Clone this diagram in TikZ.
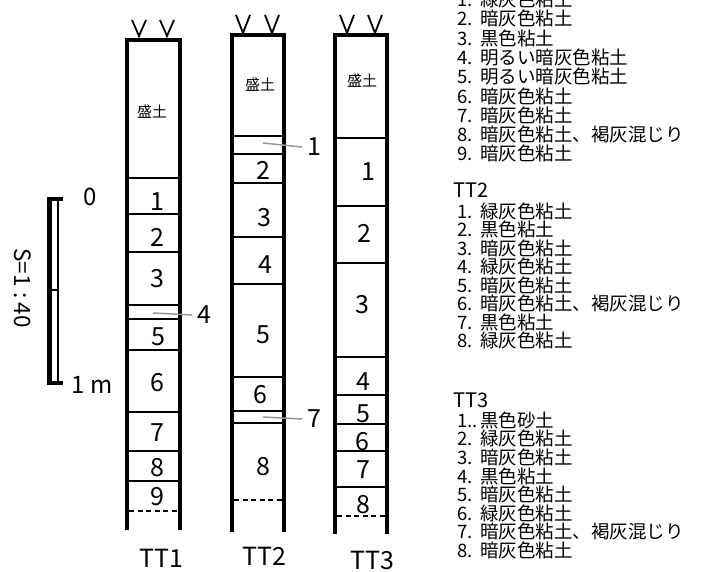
\documentclass[tikz,border=0pt]{standalone}
\usepackage{fontspec}
\setmainfont{Noto Sans CJK JP}
\usepackage{tikz}
\usepackage{color}
\definecolor{leadgray}{RGB}{150, 150, 150}
\definecolor{wallblack}{RGB}{0, 0, 0}
\newcommand{\soilitem}[2]{\makebox[25pt][l]{\hspace{2pt}#1}#2}

\begin{document}
\begin{tikzpicture}[x=1pt, y=-1pt,
    wall/.style={wallblack, line width=4.5pt, line join=miter},
    bnd/.style={line width=2pt},
    cutline/.style={line width=2pt, dash pattern=on 5pt off 3.5pt},
    vmark/.style={line width=1.8pt},
    lbl/.style={font=\fontsize{25}{25}\selectfont, inner sep=0pt},
    fillname/.style={font=\fontsize{15}{15}\selectfont, inner sep=0pt},
    side/.style={font=\fontsize{25}{25}\selectfont, inner xsep=5pt, inner ysep=0pt},
    lead/.style={leadgray, line width=1.5pt},
    leg/.style={font=\fontsize{18.5}{18.5}\selectfont, anchor=west, inner sep=0pt},
    leghead/.style={font=\fontsize{20}{20}\selectfont, anchor=west, inner sep=0pt}]
      \useasboundingbox (0,0) rectangle (701,572);
      \clip (0,0) rectangle (701,572);
      % scale bar
      \draw[line width=4.5pt] (49.5,199) -- (49.5,383);
      \draw[line width=1.2pt] (58,199) -- (58,383);
      \draw[line width=3.5pt] (47.3,199) -- (63,199);
      \draw[line width=3.5pt] (47.3,383) -- (63,383);
      \draw[line width=1.2pt] (49.5,290) -- (58,290);
      \node[font=\fontsize{24}{24}\selectfont, inner sep=0pt] (top0) at (90,197) {0};
      \node[font=\fontsize{24}{24}\selectfont, inner sep=0pt] (bot1m) at (92,385) {1 m};
      \node[font=\fontsize{22.5}{22.5}\selectfont, inner sep=0pt, rotate=-90] (scl) at (23,288) {S=1\hspace{6pt}:\hspace{4pt}40};
      % TT1
      \draw[vmark] (132,20) -- (139,36) -- (146,20) (160,20) -- (167,36) -- (174,20);
      \draw[bnd] (127,178) -- (180,178) (127,214) -- (180,214) (127,252) -- (180,252)
        (127,305) -- (180,305) (127,319) -- (180,319) (127,350) -- (180,350)
        (127,412) -- (180,412) (127,451) -- (180,451) (127,481) -- (180,481);
      \draw[cutline] (129,511) -- (178,511);
      \draw[wall] (127,530) -- (127,40) -- (180,40) -- (180,530);
      \node[fillname] (tt1f) at (152,112) {盛土};
      \node[lbl] (tt1n1) at (157,202) {1};
      \node[lbl] (tt1n2) at (157,237) {2};
      \node[lbl] (tt1n3) at (157,279) {3};
      \node[lbl] (tt1n5) at (158,337) {5};
      \node[lbl] (tt1n6) at (157,383) {6};
      \node[lbl] (tt1n7) at (157,433) {7};
      \node[lbl] (tt1n8) at (157,468) {8};
      \node[lbl] (tt1n9) at (157,497) {9};
      \coordinate (tt1in4) at (153,313);
      \node[side, anchor=west] (tt1n4) at (192,315) {4};
      \draw[lead] (tt1in4) -- (tt1n4.west);
      \node[font=\fontsize{25}{25}\selectfont, inner sep=0pt] (tt1name) at (161,558) {TT1};
      % TT2
      \draw[vmark] (236,15) -- (243,33) -- (250,15) (265,15) -- (272,33) -- (279,15);
      \draw[bnd] (232,136) -- (284,136) (232,154) -- (284,154) (232,183) -- (284,183)
        (232,237) -- (284,237) (232,284) -- (284,284) (232,377) -- (284,377)
        (232,411) -- (284,411) (232,423) -- (284,423);
      \draw[cutline] (234,500) -- (282,500);
      \draw[wall] (232,532) -- (232,35) -- (284,35) -- (284,532);
      \node[fillname] (tt2f) at (260,85) {盛土};
      \node[lbl] (tt2n2) at (263,170) {2};
      \node[lbl] (tt2n3) at (264,218) {3};
      \node[lbl] (tt2n4) at (265,265) {4};
      \node[lbl] (tt2n5) at (263,335) {5};
      \node[lbl] (tt2n6) at (260,395) {6};
      \node[lbl] (tt2n8) at (263,467) {8};
      \coordinate (tt2in1) at (263,143);
      \node[side, anchor=west] (tt2n1) at (302,147) {1};
      \draw[lead] (tt2in1) -- (tt2n1.west);
      \coordinate (tt2in7) at (263,417);
      \node[side, anchor=west] (tt2n7) at (302,419) {7};
      \draw[lead] (tt2in7) -- (tt2n7.west);
      \node[font=\fontsize{25}{25}\selectfont, inner sep=0pt] (tt2name) at (264,556) {TT2};
      % TT3
      \draw[vmark] (340,15) -- (347,33) -- (354,15) (368,15) -- (375,33) -- (382,15);
      \draw[bnd] (335,138) -- (387,138) (335,206) -- (387,206) (335,263) -- (387,263)
        (335,357) -- (387,357) (335,395) -- (387,395) (335,424) -- (387,424)
        (335,451) -- (387,451) (335,487) -- (387,487);
      \draw[cutline] (337,516) -- (385,516);
      \draw[wall] (335,534) -- (335,35) -- (387,35) -- (387,534);
      \node[fillname] (tt3f) at (362,81) {盛土};
      \node[lbl] (tt3n1) at (368,172) {1};
      \node[lbl] (tt3n2) at (364,233) {2};
      \node[lbl] (tt3n3) at (362,305) {3};
      \node[lbl] (tt3n4) at (363,382) {4};
      \node[lbl] (tt3n5) at (363,414) {5};
      \node[lbl] (tt3n6) at (362,442) {6};
      \node[lbl] (tt3n7) at (363,470) {7};
      \node[lbl] (tt3n8) at (363,505) {8};
      \node[font=\fontsize{25}{25}\selectfont, inner sep=0pt] (tt3name) at (372,560) {TT3};
      % legend TT1
      \node[leg] (l1a) at (455,-1) {\soilitem{1.}{緑灰色粘土}};
      \node[leg] (l1b) at (455,18.5) {\soilitem{2.}{暗灰色粘土}};
      \node[leg] (l1c) at (455,38) {\soilitem{3.}{黒色粘土}};
      \node[leg] (l1d) at (455,57.5) {\soilitem{4.}{明るい暗灰色粘土}};
      \node[leg] (l1e) at (455,77) {\soilitem{5.}{明るい暗灰色粘土}};
      \node[leg] (l1f) at (455,96) {\soilitem{6.}{暗灰色粘土}};
      \node[leg] (l1g) at (455,115) {\soilitem{7.}{暗灰色粘土}};
      \node[leg] (l1h) at (455,134) {\soilitem{8.}{暗灰色粘土、褐灰混じり}};
      \node[leg] (l1i) at (455,153) {\soilitem{9.}{暗灰色粘土}};
      % legend TT2
      \node[leghead] (h2) at (453,190) {TT2};
      \node[leg] (l2a) at (455,211) {\soilitem{1.}{緑灰色粘土}};
      \node[leg] (l2b) at (455,229.5) {\soilitem{2.}{黒色粘土}};
      \node[leg] (l2c) at (455,248) {\soilitem{3.}{暗灰色粘土}};
      \node[leg] (l2d) at (455,266.5) {\soilitem{4.}{緑灰色粘土}};
      \node[leg] (l2e) at (455,285) {\soilitem{5.}{暗灰色粘土}};
      \node[leg] (l2f) at (455,303.5) {\soilitem{6.}{暗灰色粘土、褐灰混じり}};
      \node[leg] (l2g) at (455,322) {\soilitem{7.}{黒色粘土}};
      \node[leg] (l2h) at (455,340.5) {\soilitem{8.}{緑灰色粘土}};
      % legend TT3
      \node[leghead] (h3) at (453,400) {TT3};
      \node[leg] (l3a) at (455,420) {\soilitem{1..}{黒色砂土}};
      \node[leg] (l3b) at (455,438.5) {\soilitem{2.}{緑灰色粘土}};
      \node[leg] (l3c) at (455,457) {\soilitem{3.}{暗灰色粘土}};
      \node[leg] (l3d) at (455,476) {\soilitem{4.}{黒色粘土}};
      \node[leg] (l3e) at (455,494.5) {\soilitem{5.}{暗灰色粘土}};
      \node[leg] (l3f) at (455,513) {\soilitem{6.}{緑灰色粘土}};
      \node[leg] (l3g) at (455,531.5) {\soilitem{7.}{暗灰色粘土、褐灰混じり}};
      \node[leg] (l3h) at (455,550) {\soilitem{8.}{暗灰色粘土}};
    \end{tikzpicture}
\end{document}
